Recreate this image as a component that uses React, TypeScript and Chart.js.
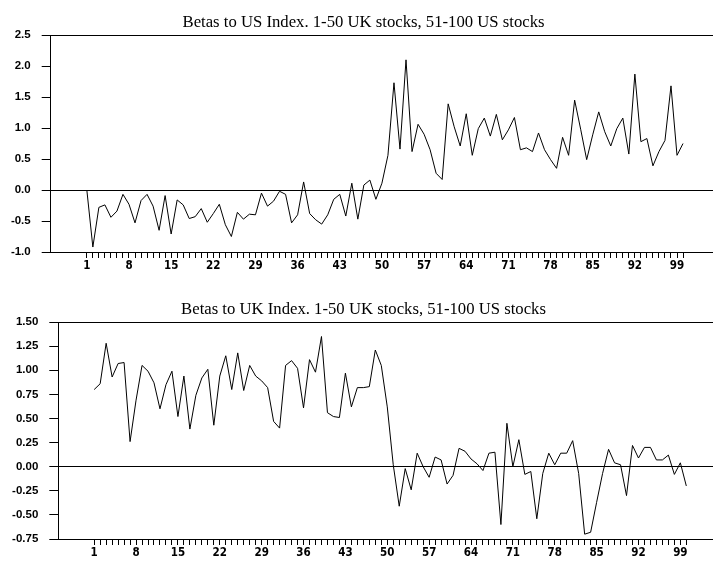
import React, { useEffect, useRef } from 'react';
import { Chart, registerables } from 'chart.js';
Chart.register(...registerables);

const stockNumbers: number[] = Array.from({ length: 100 }, (_, i) => i + 1);

const usBetas: number[] = [
  0.00, -0.92, -0.28, -0.24, -0.44, -0.34, -0.07, -0.23, -0.53, -0.17,
  -0.07, -0.26, -0.65, -0.09, -0.71, -0.16, -0.24, -0.46, -0.43, -0.30,
  -0.52, -0.38, -0.23, -0.56, -0.75, -0.36, -0.47, -0.39, -0.40, -0.05,
  -0.26, -0.18, -0.02, -0.07, -0.53, -0.40, 0.13, -0.38, -0.48, -0.55,
  -0.40, -0.15, -0.07, -0.42, 0.11, -0.47, 0.08, 0.16, -0.15, 0.11,
  0.56, 1.73, 0.66, 2.10, 0.62, 1.06, 0.90, 0.65, 0.27, 0.17,
  1.39, 1.02, 0.71, 1.23, 0.56, 0.99, 1.16, 0.87, 1.22, 0.81,
  0.97, 1.17, 0.65, 0.68, 0.62, 0.92, 0.65, 0.49, 0.35, 0.85,
  0.56, 1.45, 0.98, 0.49, 0.89, 1.26, 0.94, 0.71, 0.99, 1.16,
  0.58, 1.87, 0.78, 0.83, 0.39, 0.62, 0.80, 1.68, 0.56, 0.75,
];

const ukBetas: number[] = [
  0.80, 0.86, 1.28, 0.93, 1.07, 1.08, 0.26, 0.69, 1.05, 0.99,
  0.87, 0.60, 0.85, 0.99, 0.52, 0.94, 0.39, 0.74, 0.92, 1.01,
  0.43, 0.94, 1.15, 0.80, 1.18, 0.79, 1.05, 0.94, 0.89, 0.82,
  0.47, 0.40, 1.05, 1.10, 1.02, 0.61, 1.11, 0.98, 1.35, 0.56,
  0.52, 0.51, 0.97, 0.62, 0.82, 0.82, 0.83, 1.21, 1.05, 0.62,
  0.02, -0.41, -0.02, -0.24, 0.14, 0.00, -0.11, 0.10, 0.07, -0.18,
  -0.09, 0.19, 0.16, 0.08, 0.03, -0.04, 0.14, 0.15, -0.60, 0.45,
  0.00, 0.28, -0.08, -0.05, -0.54, -0.07, 0.14, 0.02, 0.14, 0.14,
  0.27, -0.07, -0.70, -0.68, -0.37, -0.07, 0.18, 0.04, 0.02, -0.30,
  0.22, 0.09, 0.20, 0.20, 0.07, 0.07, 0.12, -0.08, 0.04, -0.20,
];

const usTitle = 'Betas to US Index. 1-50 UK stocks, 51-100 US stocks';
const ukTitle = 'Betas to UK Index. 1-50 UK stocks, 51-100 US stocks';
const usYRange = { min: -1.0, max: 2.5, step: 0.5, decimals: 1 };
const ukYRange = { min: -0.75, max: 1.5, step: 0.25, decimals: 2 };
const labelEvery = 7;

const CANVAS_W = 727;
const CANVAS_H = 274;

interface PanelProps {
  title: string;
  values: number[];
  yr: { min: number; max: number; step: number; decimals: number };
  yAxisWidth: number;
  xMax: number;
  top: number;
}

function Panel({ title, values, yr, yAxisWidth, xMax, top }: PanelProps) {
  const ref = useRef<HTMLCanvasElement | null>(null);
  useEffect(() => {
    if (!ref.current) return;
    const chart = new Chart(ref.current, {
      type: 'line',
      data: {
        datasets: [
          {
            data: values.map((v, i) => ({ x: stockNumbers[i], y: v })),
            borderColor: '#000',
            borderWidth: 1,
            pointRadius: 0,
            tension: 0,
            fill: false,
          },
        ],
      },
      options: {
        animation: false,
        responsive: false,
        devicePixelRatio: 1,
        layout: { padding: 0 },
        plugins: {
          legend: { display: false },
          tooltip: { enabled: false },
          title: {
            display: true,
            text: title,
            color: '#000',
            font: { family: '"Liberation Serif", serif', size: 16.7, weight: 'normal', lineHeight: 1.2 },
            padding: { top: 13, bottom: 2 },
          },
        },
        scales: {
          x: {
            type: 'linear',
            min: -5,
            max: xMax,
            afterBuildTicks: (scale: any) => {
              scale.ticks = stockNumbers.map((n) => ({ value: n }));
            },
            afterFit: (scale: any) => {
              scale.height = 22;
            },
            grid: {
              display: true,
              drawOnChartArea: false,
              drawTicks: true,
              tickLength: 6,
              color: '#000',
              tickColor: '#000',
              lineWidth: 1,
            },
            border: { display: true, color: '#000', width: 1 },
            ticks: {
              autoSkip: false,
              maxRotation: 0,
              minRotation: 0,
              padding: 1,
              color: '#000',
              font: { family: '"Liberation Sans Narrow", "DejaVu Sans Condensed", "Liberation Sans", sans-serif', size: 11.5, weight: 'bold' },
              callback: (v: any) => ((Number(v) - 1) % labelEvery === 0 ? String(v) : ''),
            },
          },
          y: {
            min: yr.min,
            max: yr.max,
            afterFit: (scale: any) => {
              scale.width = yAxisWidth;
            },
            grid: {
              display: true,
              drawOnChartArea: true,
              drawTicks: true,
              tickLength: 9,
              lineWidth: 1,
              color: (ctx: any) =>
                ctx.tick && (Math.abs(ctx.tick.value) < 1e-9 || Math.abs(ctx.tick.value - yr.max) < 1e-9)
                  ? '#000'
                  : 'rgba(0,0,0,0)',
              tickColor: '#000',
            },
            border: { display: true, color: '#000', width: 1 },
            ticks: {
              stepSize: yr.step,
              padding: 11,
              color: '#000',
              font: { family: '"Liberation Sans", Arial, sans-serif', size: 11.5, weight: 'bold' },
              callback: (v: any) => Number(v).toFixed(yr.decimals),
            },
          },
        },
      } as any,
    });
    return () => chart.destroy();
  }, []);
  return (
    <canvas
      ref={ref}
      width={CANVAS_W}
      height={CANVAS_H}
      style={{ position: 'absolute', left: 0, top, width: CANVAS_W, height: CANVAS_H, display: 'block' }}
    />
  );
}

export default function App() {
  return (
    <div
      style={{
        position: 'fixed',
        left: 0,
        top: 0,
        width: 713,
        height: 561,
        overflow: 'hidden',
        background: '#fff',
      }}
    >
      <Panel title={usTitle} values={usBetas} yr={usYRange} yAxisWidth={50.7} xMax={107.3} top={0} />
      <Panel title={ukTitle} values={ukBetas} yr={ukYRange} yAxisWidth={58.3} xMax={106.8} top={287} />
    </div>
  );
}
